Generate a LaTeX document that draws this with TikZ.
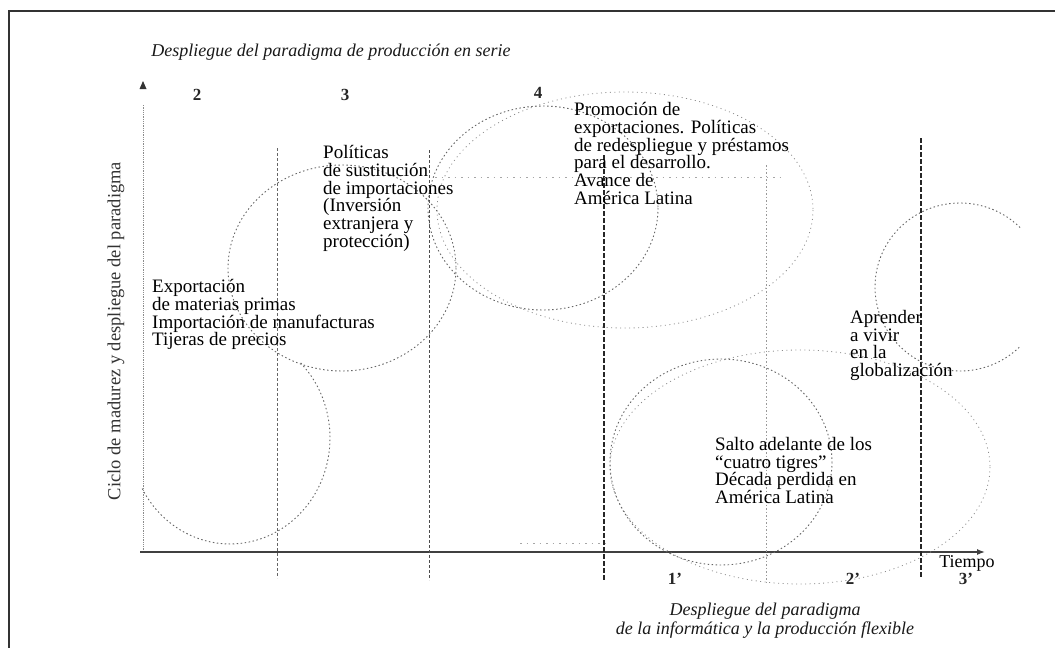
\documentclass[tikz,border=0pt]{standalone}
\usepackage{fontspec}
\setmainfont{Liberation Serif}
\usetikzlibrary{arrows.meta}
\begin{document}
\begin{tikzpicture}[x=1pt,y=-1pt,
  txt/.style={anchor=north west, inner sep=0pt, align=left, font=\fontsize{19}{17.8}\selectfont, text=black},
  ttl/.style={inner sep=0pt, align=center, font=\fontsize{18}{19}\selectfont\itshape, text=black!90},
  num/.style={inner sep=0pt, font=\fontsize{17}{17}\selectfont\bfseries, text=black!85},
  circ/.style={draw=black!60, line width=0.9pt, dash pattern=on 1.5pt off 2.5pt},
  wide/.style={draw=black!45, line width=0.8pt, dash pattern=on 1pt off 3.5pt},
  vthin/.style={draw=black!60, line width=0.9pt, dash pattern=on 3pt off 2pt},
  vthick/.style={draw=black!85, line width=1.5pt, dash pattern=on 5pt off 2pt},
  vdot/.style={draw=black!40, line width=0.8pt, dash pattern=on 1.5pt off 2pt},
  faint/.style={draw=black!35, line width=0.8pt, dash pattern=on 1.5pt off 5pt},
  frame/.style={draw=black!80, line width=2pt}
]
\useasboundingbox (0,0) rectangle (1055,648);
% frame (top and left edges)
\draw[frame] (1055,11) -- (9,11) -- (9,648);

% axes
\coordinate (O) at (140,552);
\coordinate (xend) at (985,552);
\coordinate (ybot) at (143,552);
\coordinate (ytop) at (143,105);
\draw[draw=black!45, line width=0.8pt, densely dotted] (ybot) -- (ytop);
\fill[black!80] (143,81) -- (139.5,89) -- (146.5,89) -- cycle;
\draw[draw=black!75, line width=1.3pt, -{Latex[length=8pt,width=6pt]}] (O) -- (xend);

% vertical period lines
\draw[vthin] (277,148) -- (277,578);
\draw[vthin, draw=black!70] (429,150) -- (429,580);
\draw[vthick] (604,155) -- (604,581);
\draw[vdot] (766,165) -- (766,584);
\draw[vthick] (921,138) -- (921,578);

% faint guide lines
\draw[faint] (435,177) -- (785,177);
\draw[faint] (520,543) -- (605,543);

% wide ellipses
\draw[wide] (625,210) ellipse [x radius=188, y radius=118];
\draw[wide] (800,467) ellipse [x radius=190, y radius=117];

% circles
\draw[circ] (300.7,363.0) arc[start angle=-45, end angle=152, x radius=100, y radius=106];
\draw[circ] (342,268) ellipse [x radius=114, y radius=103];
\draw[circ] (543,208) ellipse [x radius=115, y radius=102];
\draw[circ] (721,462) ellipse [x radius=111, y radius=103];
\draw[circ] (1020.1,227.6) arc[start angle=-45, end angle=-315, x radius=85, y radius=84];

% titles
\node[ttl] (toptitle) at (331,52) {Despliegue del paradigma de producción en serie};
\node[ttl] (bottitle) at (765,621) {Despliegue del paradigma\\de la informática y la producción flexible};
\node[inner sep=0pt, rotate=90, font=\fontsize{18.5}{18}\selectfont, text=black!80] (ylabel) at (116,331) {Ciclo de madurez y despliegue del paradigma};

% numbers
\node[num] (n2) at (197,95) {2};
\node[num] (n3) at (345,95) {3};
\node[num] (n4) at (538,93) {4};
\node[num] (m1) at (675,579) {1’};
\node[num] (m2) at (853,579) {2’};
\node[num] (m3) at (966,579) {3’};
\node[inner sep=0pt, font=\fontsize{18}{18}\selectfont, text=black] (tiempo) at (967,563) {Tiempo};

% texts
\node[txt] (t1) at (152,279) {Exportación\\de materias primas\\Importación de manufacturas\\Tijeras de precios};
\node[txt] (t2) at (323,145) {Políticas\\de sustitución\\de importaciones\\(Inversión\\extranjera y\\protección)};
\node[txt] (t3) at (574,102) {Promoción de\\exportaciones. Políticas\\de redespliegue y préstamos\\para el desarrollo.\\Avance de\\América Latina};
\node[txt] (t4) at (715,437) {Salto adelante de los\\“cuatro tigres”\\Década perdida en\\América Latina};
\node[txt] (t5) at (850,310) {Aprender\\a vivir\\en la\\globalización};
\end{tikzpicture}
\end{document}
